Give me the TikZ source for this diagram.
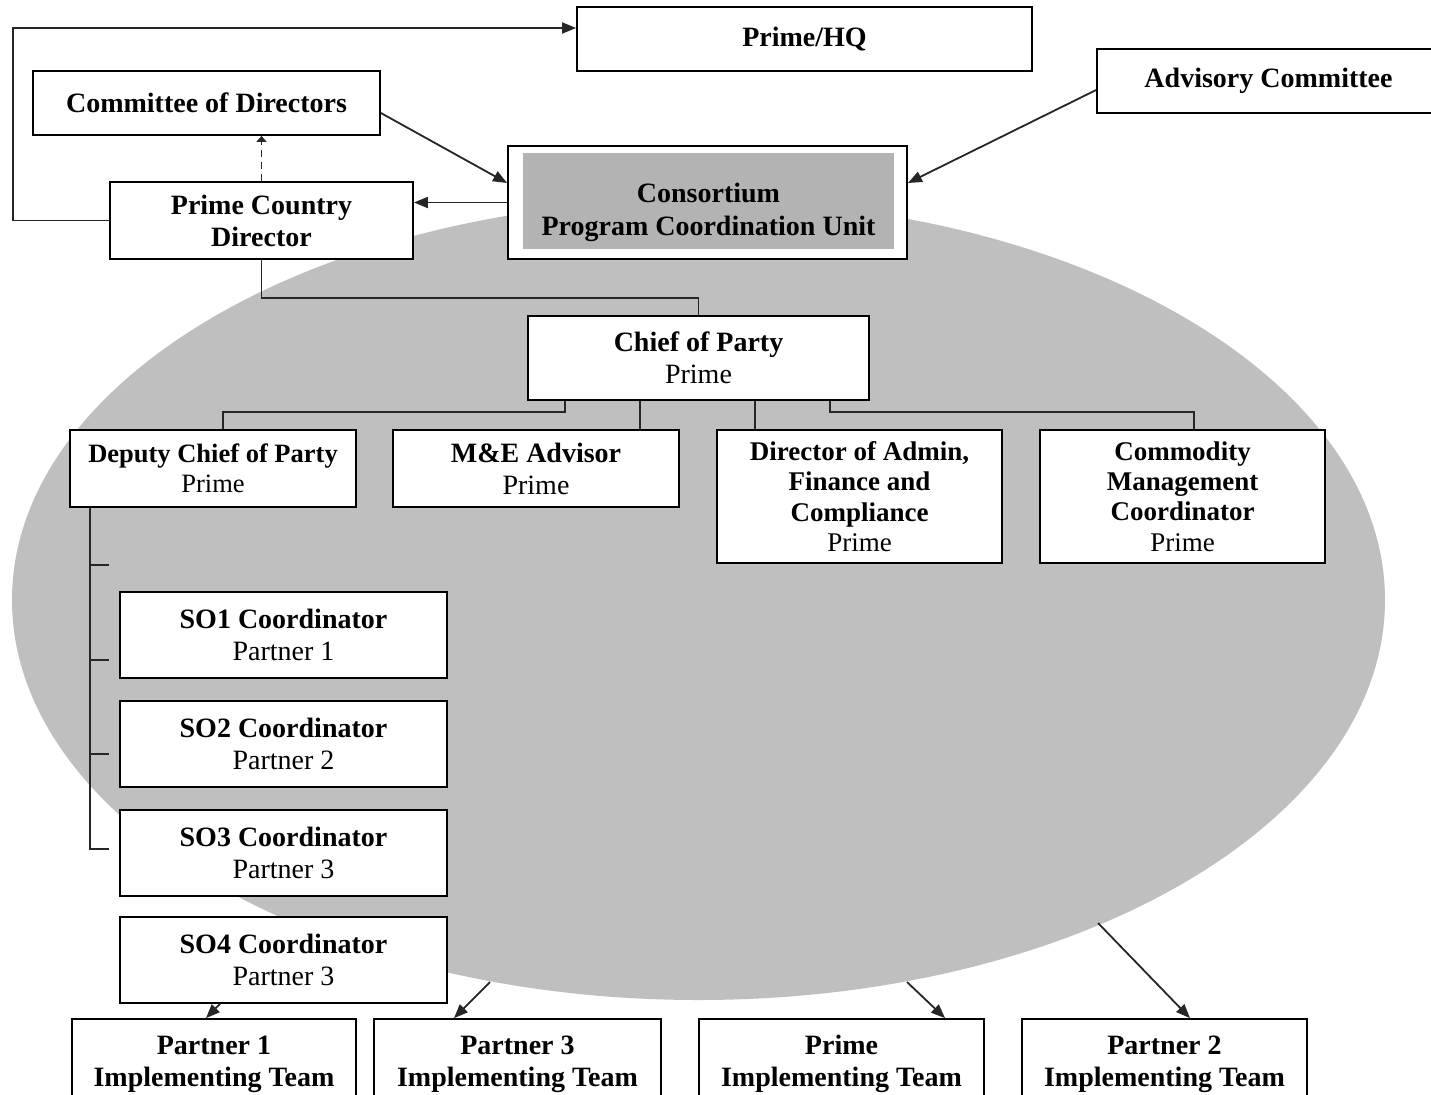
\documentclass[tikz,border=0pt]{standalone}
\usepackage{fontspec}
\setmainfont{Liberation Serif}
\usetikzlibrary{arrows.meta}
\definecolor{ellgray}{RGB}{191,191,191}
\definecolor{pcugray}{RGB}{179,179,179}
\begin{document}
\begin{tikzpicture}[x=1pt,y=-1pt,
  box/.style={draw=black, line width=1.8pt, fill=white, inner sep=0pt, align=center,
              font=\fontsize{28}{32}\selectfont},
  conn/.style={line width=1.8pt, draw=black!85},
  arr/.style={conn, -{Triangle[length=14pt,width=11pt]}},
]
\useasboundingbox (0,0) rectangle (1431,1094);
\clip (0,0) rectangle (1431,1094);
\fill[white] (0,0) rectangle (1431,1094);
\fill[ellgray] (698.5,600) ellipse [x radius=686.5, y radius=400];

% top row
\node[box, minimum width=455pt, minimum height=64pt] (hq) at (804.5,39) {\textbf{Prime/HQ}};
\node[box, minimum width=343pt, minimum height=64pt] (adv) at (1268.5,81) {\textbf{Advisory Committee}};
\node[box, minimum width=347pt, minimum height=64pt] (cod) at (206.5,103) {\textbf{Committee of Directors}};
\node[box, minimum width=303pt, minimum height=77pt] (pcd) at (261.5,220.5) {\textbf{Prime Country}\\\textbf{Director}};
\node[box, minimum width=399pt, minimum height=113pt] (pcu) at (707.5,202.5) {};
\fill[pcugray] (523,153) rectangle (894,249);
\node[font=\fontsize{28}{33}\selectfont\bfseries, align=center, inner sep=0pt] (pcut) at (708.5,212) {Consortium\\Program Coordination Unit};

% management
\node[box, minimum width=341pt, minimum height=84pt] (cop) at (698.5,358) {\textbf{Chief of Party}\\Prime};
\node[box, minimum width=286pt, minimum height=77pt, font=\fontsize{26.5}{30}\selectfont] (dcop) at (213,468.5) {\textbf{Deputy Chief of Party}\\Prime};
\node[box, minimum width=286pt, minimum height=77pt] (me) at (536,468.5) {\textbf{M\&E Advisor}\\Prime};
\node[box, minimum width=285pt, minimum height=133pt, font=\fontsize{27}{30.3}\selectfont] (dir) at (859.5,496.5) {\textbf{Director of Admin,}\\\textbf{Finance and}\\\textbf{Compliance}\\Prime};
\node[box, minimum width=285pt, minimum height=133pt, font=\fontsize{27}{30.3}\selectfont] (cmc) at (1182.5,496.5) {\textbf{Commodity}\\\textbf{Management}\\\textbf{Coordinator}\\Prime};

% SO coordinators
\node[box, minimum width=327pt, minimum height=86pt] (so1) at (283.5,635) {\textbf{SO1 Coordinator}\\Partner 1};
\node[box, minimum width=327pt, minimum height=86pt] (so2) at (283.5,744) {\textbf{SO2 Coordinator}\\Partner 2};
\node[box, minimum width=327pt, minimum height=86pt] (so3) at (283.5,853) {\textbf{SO3 Coordinator}\\Partner 3};
\node[box, minimum width=327pt, minimum height=86pt] (so4) at (283.5,960) {\textbf{SO4 Coordinator}\\Partner 3};

% implementing teams
\node[box, minimum width=284pt, minimum height=90pt] (p1) at (214,1064) {\textbf{Partner 1}\\\textbf{Implementing Team}};
\node[box, minimum width=287pt, minimum height=90pt] (p3) at (517.5,1064) {\textbf{Partner 3}\\\textbf{Implementing Team}};
\node[box, minimum width=285pt, minimum height=90pt] (pr) at (841.5,1064) {\textbf{Prime}\\\textbf{Implementing Team}};
\node[box, minimum width=285pt, minimum height=90pt] (p2) at (1164.5,1064) {\textbf{Partner 2}\\\textbf{Implementing Team}};

% connectors top
\coordinate (lp) at (13,28);
\draw[arr] (pcd.west) -| (lp) -- ([yshift=11pt]hq.west);
\draw[conn, dash pattern=on 7pt off 5pt, -{Triangle[length=6pt,width=10pt]}] (pcd.north) -- (pcd.north |- cod.south);
\draw[arr] ([yshift=-10pt]cod.east) -- ([yshift=19.5pt]pcu.west);
\draw[arr] ([yshift=-9pt]adv.west) -- ([yshift=19.5pt]pcu.east);
\draw[arr] (pcu.west) -- (pcu.west -| pcd.east);
\draw[conn] (pcd.south) -- ++(0,38) -| (cop.north);

% chief of party to staff
\draw[conn] ([xshift=38pt]cop.south west) -- ++(0,11) -| ([xshift=10pt]dcop.north);
\draw[conn] ([xshift=113pt]cop.south west) coordinate (m1) -- (m1 |- me.north);
\draw[conn] ([xshift=228pt]cop.south west) coordinate (m2) -- (m2 |- dir.north);
\draw[conn] ([xshift=303pt]cop.south west) -- ++(0,11) -| ([xshift=11.5pt]cmc.north);

% deputy bracket
\draw[conn] ([xshift=21pt]dcop.south west) coordinate (b0) -- ++(0,341) -- ++(19,0);
\draw[conn] (b0) ++(0,57) -- ++(19,0);
\draw[conn] (b0) ++(0,152) -- ++(19,0);
\draw[conn] (b0) ++(0,246) -- ++(19,0);

% bottom arrows
\coordinate (s1) at ([xshift=-63.5pt]so4.south);
\coordinate (s3) at (490,982);
\coordinate (s4) at (907,982);
\coordinate (s5) at (1098,923);
\draw[arr] (s1) -- ([xshift=-8pt]p1.north);
\draw[arr] (s3) -- ([xshift=-63.5pt]p3.north);
\draw[arr] (s4) -- ([xshift=103.5pt]pr.north);
\draw[arr] (s5) -- ([xshift=25.5pt]p2.north);
\end{tikzpicture}
\end{document}
